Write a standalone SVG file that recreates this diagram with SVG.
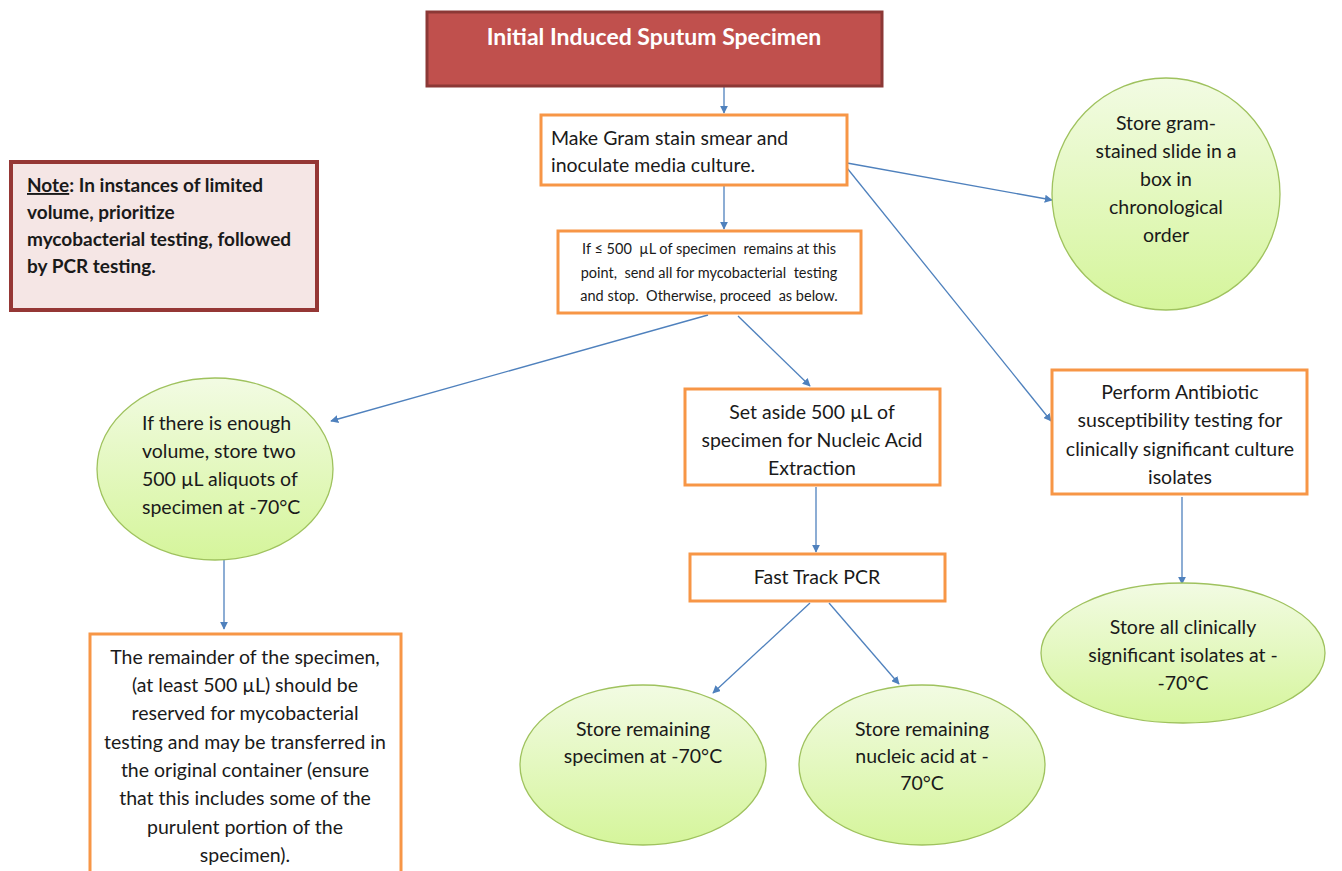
<svg xmlns="http://www.w3.org/2000/svg" width="1342" height="871" viewBox="0 0 1342 871">
<defs>
<linearGradient id="g" x1="0" y1="0" x2="0" y2="1">
<stop offset="0" stop-color="#F2FBE3"/>
<stop offset="1" stop-color="#D5F59B"/>
</linearGradient>
<marker id="ah" viewBox="0 0 10 10" refX="9" refY="5" markerWidth="8" markerHeight="8" markerUnits="userSpaceOnUse" orient="auto">
<path d="M0,0 L10,5 L0,10 z" fill="#4F81BD"/>
</marker>
<style>
.t{font-family:Lato,"Liberation Sans",sans-serif;font-size:19.5px;fill:#1a1a1a}
.c{text-anchor:middle}
.box{fill:#fff;stroke:#F79646;stroke-width:3}
.ell{fill:url(#g);stroke:#9FC25E;stroke-width:1.3}
.ln{stroke:#4F81BD;stroke-width:1.3;fill:none;marker-end:url(#ah)}
</style>
</defs>
<rect width="1342" height="871" fill="#fff"/>
<g id="connectors">
<line class="ln" x1="724" y1="86" x2="724" y2="113"/>
<line class="ln" x1="724" y1="186" x2="724" y2="229"/>
<line class="ln" x1="847" y1="163" x2="1052" y2="200"/>
<line class="ln" x1="847" y1="168" x2="1051" y2="421"/>
<line class="ln" x1="708" y1="315" x2="331" y2="421"/>
<line class="ln" x1="738" y1="316" x2="810" y2="386"/>
<line class="ln" x1="816" y1="487" x2="816" y2="552"/>
<line class="ln" x1="810" y1="603" x2="713" y2="693"/>
<line class="ln" x1="829" y1="603" x2="899" y2="684"/>
<line class="ln" x1="1182" y1="497" x2="1182" y2="584"/>
<line class="ln" x1="224" y1="560" x2="224" y2="629"/>
</g>
<g id="title">
<rect x="427" y="12" width="455" height="74" fill="#C0504D" stroke="#8C3836" stroke-width="3"/>
<text x="654" y="45" class="c" style="font-family:Lato,'Liberation Sans',sans-serif;font-weight:bold;font-size:23px;fill:#fff">Initial Induced Sputum Specimen</text>
</g>
<g id="note">
<rect x="11" y="162" width="306" height="148" fill="#F5E6E5" stroke="#953735" stroke-width="4"/>
<text class="t" style="font-weight:bold;font-size:19px" x="27"><tspan x="27" y="192"><tspan text-decoration="underline">Note</tspan>: In instances of limited</tspan><tspan x="27" y="219">volume, prioritize</tspan><tspan x="27" y="246">mycobacterial testing, followed</tspan><tspan x="27" y="273">by PCR testing.</tspan></text>
</g>
<g id="gram">
<rect class="box" x="541" y="115" width="306" height="70"/>
<text class="t"><tspan x="551" y="145">Make Gram stain smear and</tspan><tspan x="551" y="172">inoculate media culture.</tspan></text>
</g>
<g id="check">
<rect class="box" x="558" y="231" width="303" height="82"/>
<text class="t c" style="font-size:14.5px;white-space:pre"><tspan x="709" y="254">If ≤ 500  µL of specimen  remains at this</tspan><tspan x="709" y="278">point,  send all for mycobacterial  testing</tspan><tspan x="709" y="301">and stop.  Otherwise, proceed  as below.</tspan></text>
</g>
<g id="slide">
<ellipse class="ell" cx="1166" cy="194" rx="114" ry="116"/>
<text class="t c"><tspan x="1166" y="130">Store gram-</tspan><tspan x="1166" y="158">stained slide in a</tspan><tspan x="1166" y="186">box in</tspan><tspan x="1166" y="214">chronological</tspan><tspan x="1166" y="242">order</tspan></text>
</g>
<g id="aliquots">
<ellipse class="ell" cx="215" cy="469" rx="118" ry="91"/>
<text class="t"><tspan x="142" y="430">If there is enough</tspan><tspan x="142" y="458">volume, store two</tspan><tspan x="142" y="486">500 µL aliquots of</tspan><tspan x="142" y="514">specimen at -70°C</tspan></text>
</g>
<g id="setaside">
<rect class="box" x="685" y="389" width="255" height="96"/>
<text class="t c"><tspan x="812" y="419">Set aside 500 µL of</tspan><tspan x="812" y="447">specimen for Nucleic Acid</tspan><tspan x="812" y="475">Extraction</tspan></text>
</g>
<g id="pcr">
<rect class="box" x="690" y="554" width="255" height="47"/>
<text class="t c" x="817" y="584">Fast Track PCR</text>
</g>
<g id="antibiotic">
<rect class="box" x="1052" y="370" width="255" height="124"/>
<text class="t c"><tspan x="1180" y="399">Perform Antibiotic</tspan><tspan x="1180" y="427">susceptibility testing for</tspan><tspan x="1180" y="456">clinically significant culture</tspan><tspan x="1180" y="484">isolates</tspan></text>
</g>
<g id="isolates">
<ellipse class="ell" cx="1183" cy="653" rx="142" ry="70"/>
<text class="t c"><tspan x="1183" y="634">Store all clinically</tspan><tspan x="1183" y="662">significant isolates at -</tspan><tspan x="1183" y="690">-70°C</tspan></text>
</g>
<g id="remainder">
<rect class="box" x="90" y="634" width="311" height="245"/>
<text class="t c"><tspan x="245" y="664">The remainder of the specimen,</tspan><tspan x="245" y="692">(at least 500 µL) should be</tspan><tspan x="245" y="720">reserved for mycobacterial</tspan><tspan x="245" y="749">testing and may be transferred in</tspan><tspan x="245" y="777">the original container (ensure</tspan><tspan x="245" y="805">that this includes some of the</tspan><tspan x="245" y="834">purulent portion of the</tspan><tspan x="245" y="862">specimen).</tspan></text>
</g>
<g id="spec">
<ellipse class="ell" cx="643" cy="765" rx="123" ry="80"/>
<text class="t c"><tspan x="643" y="736">Store remaining</tspan><tspan x="643" y="763">specimen at -70°C</tspan></text>
</g>
<g id="nucleic">
<ellipse class="ell" cx="922" cy="765" rx="123" ry="80"/>
<text class="t c"><tspan x="922" y="736">Store remaining</tspan><tspan x="922" y="763">nucleic acid at -</tspan><tspan x="922" y="790">70°C</tspan></text>
</g>
</svg>
